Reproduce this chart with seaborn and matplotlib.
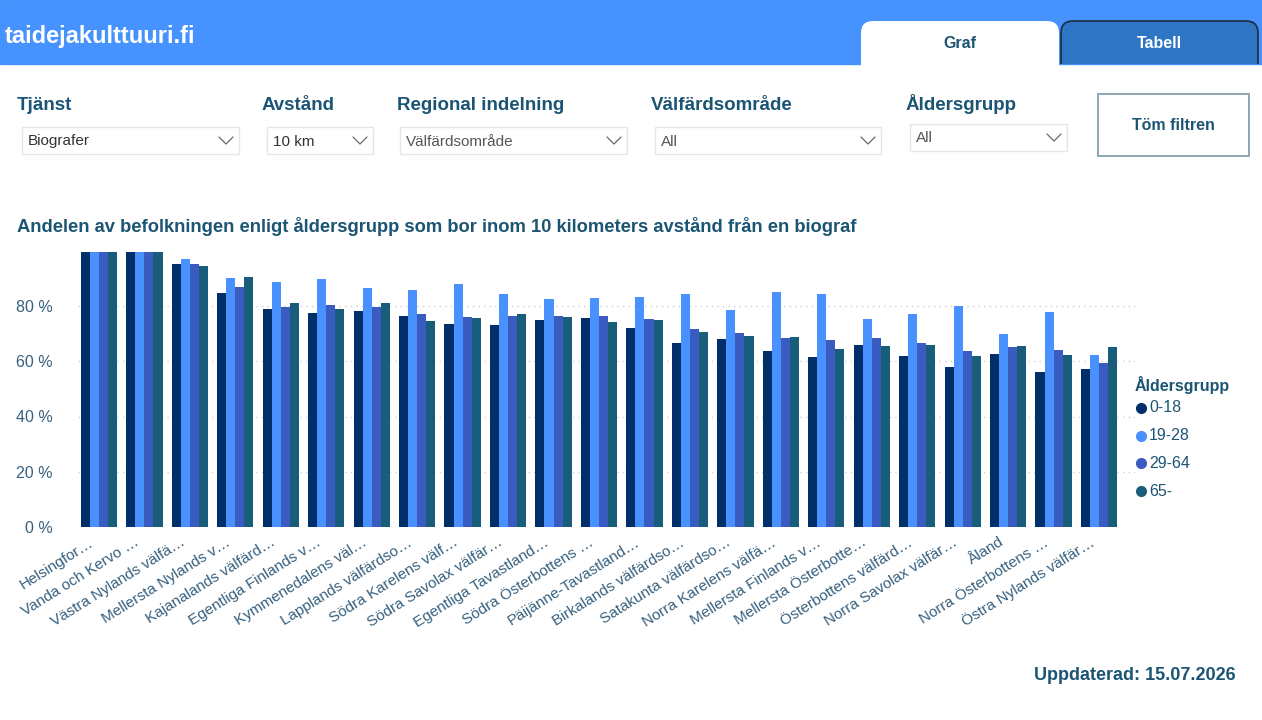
import matplotlib
matplotlib.use('Agg')
import matplotlib.pyplot as plt
import seaborn as sns
import pandas as pd
import numpy as np
from matplotlib.path import Path
from matplotlib.patches import PathPatch, Rectangle
from matplotlib.lines import Line2D
from matplotlib.transforms import Affine2D

# --- data ---
regions = [
    'Helsingfor…', 'Vanda och Kervo …', 'Västra Nylands välfä…', 'Mellersta Nylands v…',
    'Kajanalands välfärd…', 'Egentliga Finlands v…', 'Kymmenedalens väl…', 'Lapplands välfärdso…',
    'Södra Karelens välf…', 'Södra Savolax välfär…', 'Egentliga Tavastland…', 'Södra Österbottens …',
    'Päijänne-Tavastland…', 'Birkalands välfärdso…', 'Satakunta välfärdso…', 'Norra Karelens välfä…',
    'Mellersta Finlands v…', 'Mellersta Österbotte…', 'Österbottens välfärd…', 'Norra Savolax välfär…',
    'Åland', 'Norra Österbottens …', 'Östra Nylands välfär…',
]
age_groups = ['0-18', '19-28', '29-64', '65-']
share_0_18 = [99.7, 99.5, 95.1, 84.8, 79.0, 77.3, 78.3, 76.2, 73.5, 73.1, 74.9, 75.7,
              71.9, 66.5, 67.9, 63.7, 61.5, 65.8, 61.8, 57.9, 62.5, 56.1, 57.1]
share_19_28 = [99.7, 99.6, 97.1, 90.0, 88.7, 89.6, 86.5, 85.8, 88.0, 84.2, 82.5, 82.9,
               83.1, 84.3, 78.7, 85.0, 84.5, 75.4, 77.2, 79.9, 69.8, 77.7, 62.3]
share_29_64 = [99.7, 99.4, 95.2, 86.8, 79.8, 80.2, 79.8, 77.0, 76.1, 76.3, 76.5, 76.5,
               75.2, 71.8, 70.2, 68.3, 67.6, 68.4, 66.6, 63.6, 65.0, 64.2, 59.3]
share_65 = [99.7, 99.4, 94.6, 90.5, 81.0, 79.0, 81.2, 74.6, 75.5, 77.0, 76.1, 74.3,
            74.9, 70.6, 69.3, 68.8, 64.4, 65.5, 65.8, 61.8, 65.5, 62.1, 65.2]
y_ticks = [0, 20, 40, 60, 80]

filter_labels = ['Tjänst', 'Avstånd', 'Regional indelning', 'Välfärdsområde', 'Åldersgrupp']
filter_values = ['Biografer', '10 km', 'Välfärdsområde', 'All', 'All']

colors = {'0-18': '#012F6A', '19-28': '#4891FF', '29-64': '#3A5BBF', '65-': '#185E7B'}
TEAL = '#1C5574'
TICK = '#36607F'

df = pd.DataFrame({
    'region': regions * 4,
    'age': [a for a in age_groups for _ in regions],
    'share': share_0_18 + share_19_28 + share_29_64 + share_65,
})

sns.set_theme(style='white')
plt.rcParams['font.family'] = ['Liberation Sans', 'DejaVu Sans']

W, H = 1262, 720
fig = plt.figure(figsize=(W / 100, H / 100), dpi=100)
# pixel coordinates measured from the top-left corner
T = Affine2D().scale(1 / 100, -1 / 100).translate(0, H / 100) + fig.dpi_scale_trans


def rounded_top(x0, y0, x1, y1, r):
    verts = [(x0, y1), (x0, y0 + r), (x0, y0), (x0 + r, y0), (x1 - r, y0), (x1, y0),
             (x1, y0 + r), (x1, y1)]
    codes = [Path.MOVETO, Path.LINETO, Path.CURVE3, Path.CURVE3, Path.LINETO, Path.CURVE3,
             Path.CURVE3, Path.LINETO]
    return Path(verts, codes)


# header band and tabs
fig.patches.append(Rectangle((0, 0), W, 64, transform=T, color='#4692FF', zorder=0))
fig.text(5, 37, 'taidejakulttuuri.fi', transform=T, color='white', fontsize=17,
         fontweight='bold', va='center', ha='left')
fig.patches.append(PathPatch(rounded_top(861, 21, 1059, 66, 12), transform=T,
                             facecolor='white', edgecolor='none', zorder=1))
fig.patches.append(PathPatch(rounded_top(1061, 21, 1258, 64, 12), transform=T,
                             facecolor='#2E76C4', edgecolor='#1E2C3E', lw=1.2, zorder=1))
fig.text(960, 44, 'Graf', transform=T, color=TEAL, fontsize=11.5, fontweight='bold',
         ha='center', va='center')
fig.text(1159, 44, 'Tabell', transform=T, color='white', fontsize=11.5, fontweight='bold',
         ha='center', va='center')

# filter row
label_x = [17, 262, 397, 651, 905]
boxes = [(22, 239), (267, 373), (400, 627), (655, 881), (910, 1067)]
for i, (lab, val) in enumerate(zip(filter_labels, filter_values)):
    ly = 104 if i == 4 else 106
    by0 = 124 if i == 4 else 127
    fig.text(label_x[i], ly, lab, transform=T, color=TEAL, fontsize=13.5,
             fontweight='bold', va='center', ha='left')
    bx0, bx1 = boxes[i]
    fig.patches.append(Rectangle((bx0, by0), bx1 - bx0, 27, transform=T, facecolor='white',
                                 edgecolor='#E6E6E6', lw=1, zorder=1))
    fig.text(bx0 + 6, by0 + 14.5, val, transform=T, color='#333333' if i < 2 else '#555555',
             fontsize=11, va='center', ha='left')
    cx, cy = bx1 - 13, by0 + 14
    fig.lines.append(Line2D([cx - 7, cx, cx + 7], [cy - 4, cy + 3, cy - 4], transform=T,
                            color='#666666', lw=0.9))

fig.patches.append(Rectangle((1098, 94), 151, 62, transform=T, facecolor='white',
                             edgecolor='#8FA6B5', lw=1.4, zorder=1))
fig.text(1173, 125, 'Töm filtren', transform=T, color=TEAL, fontsize=11.5,
         fontweight='bold', ha='center', va='center')

# chart title
fig.text(17, 227, 'Andelen av befolkningen enligt åldersgrupp som bor inom 10 kilometers '
         'avstånd från en biograf', transform=T, color=TEAL, fontsize=13.2,
         fontweight='bold', ha='left', va='center')

# bars
ax = fig.add_axes([78 / W, (H - 527) / H, (1135 - 78) / W, (527 - 250.75) / H])
sns.barplot(data=df, x='region', y='share', hue='age', order=regions, hue_order=age_groups,
            palette=colors, saturation=1, width=0.8, gap=0, edgecolor='none',
            legend=False, ax=ax)
ax.set_xlim(-0.46, 22.79)
ax.set_ylim(0, 100)
ax.set_yticks(y_ticks)
ax.set_yticklabels([f'{v} %' for v in y_ticks], color=TICK, fontsize=11.5)
ax.yaxis.grid(True, linestyle=(0, (1, 3)), color='#D0D0D0', lw=1)
ax.set_axisbelow(True)
# labels end a little left of the group centre, as in the original
ax.set_xticks(np.arange(len(regions)) - 0.22)
ax.set_xticklabels(regions, rotation=32, ha='right', rotation_mode='anchor',
                   color=TICK, fontsize=11)
ax.tick_params(axis='y', length=0, pad=18)
ax.tick_params(axis='x', length=0, pad=6)
ax.set_xlabel('')
ax.set_ylabel('')
sns.despine(ax=ax, left=True, bottom=True)

# legend
fig.text(1135, 385, 'Åldersgrupp', transform=T, color=TEAL, fontsize=11.5,
         fontweight='bold', ha='left', va='center')
for k, a in enumerate(age_groups):
    yy = 408 + k * 27.7
    fig.lines.append(Line2D([1141], [yy], transform=T, marker='o', markersize=7,
                            color=colors[a], lw=0))
    fig.text(1149, yy, a, transform=T, color=TEAL, fontsize=11.5, ha='left', va='center')

fig.text(1236, 676, 'Uppdaterad: 15.07.2026', transform=T, color=TEAL, fontsize=13,
         fontweight='bold', ha='right', va='center')

fig.savefig('out.png', dpi=100, facecolor='white')
plt.close(fig)
